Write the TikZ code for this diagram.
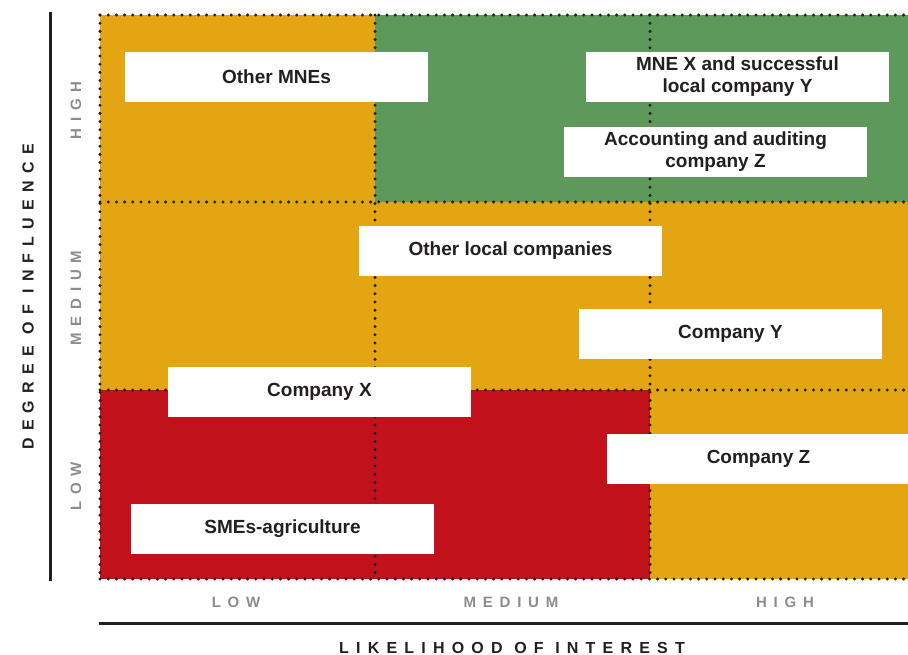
\documentclass[tikz,border=0pt]{standalone}
\usepackage{fontspec}
\setmainfont{Liberation Sans}
\newfontfamily\spacedfont[LetterSpace=45]{Liberation Sans}
\definecolor{cOrange}{HTML}{E3A612}
\definecolor{cGreen}{HTML}{5E995C}
\definecolor{cRed}{HTML}{C1121C}
\definecolor{cDark}{HTML}{231F20}
\definecolor{cGrey}{HTML}{8C8C8E}
\tikzset{
  dotline/.style={draw=cDark, line width=3.3pt, line cap=round, dash pattern=on 0pt off 8.2pt},
  itembox/.style={fill=white, minimum width=303pt, minimum height=50pt, inner sep=0pt,
    align=center, text=cDark, font=\fontsize{19}{22}\selectfont\bfseries},
  levellabel/.style={text=cGrey, inner sep=0pt, font=\fontsize{15}{15}\selectfont\spacedfont\bfseries},
  axistitle/.style={text=cDark, inner sep=0pt, font=\fontsize{16}{16}\selectfont\spacedfont\bfseries},
  axisline/.style={draw=cDark, line width=3pt}
}
\begin{document}
\begin{tikzpicture}[x=1pt,y=-1pt]
\useasboundingbox (0,0) rectangle (908,655);
\clip (0,0) rectangle (908,655);
% cells
\fill[cOrange] (100,15) rectangle (375,202);
\fill[cGreen] (375,15) rectangle (925,202);
\fill[cOrange] (100,202) rectangle (925,390);
\fill[cRed] (100,390) rectangle (650,579);
\fill[cOrange] (650,390) rectangle (925,579);
% dotted grid
\foreach \yy in {15,202,390,579} { \draw[dotline] (100,\yy) -- (925,\yy); }
\foreach \xx in {100,375,650} { \draw[dotline] (\xx,15) -- (\xx,579); }
% axis lines
\coordinate (ya) at (50,12);
\coordinate (yb) at (50,581);
\coordinate (xa) at (99,623.5);
\coordinate (xb) at (908,623.5);
\draw[axisline] (ya) -- (yb);
\draw[axisline] (xa) -- (xb);
% boxes
\node[itembox] (mnes) at (276.5,77) {Other MNEs};
\node[itembox] (mnex) at (737.5,77) {MNE X and successful\\local company Y};
\node[itembox] (acc) at (715.5,152) {Accounting and auditing\\company Z};
\node[itembox] (olc) at (510.5,251) {Other local companies};
\node[itembox] (cy) at (730.5,334) {Company Y};
\node[itembox] (cx) at (319.5,392) {Company X};
\node[itembox] (cz) at (758.5,459) {Company Z};
\node[itembox] (sme) at (282.5,529) {SMEs-agriculture};
% level labels
\node[levellabel, rotate=90] (yh) at (76,110.5) {HIGH};
\node[levellabel, rotate=90] (ym) at (76,298) {MEDIUM};
\node[levellabel, rotate=90] (yl) at (76,486.5) {LOW};
\node[levellabel] (xl) at (236,602) {LOW};
\node[levellabel] (xm) at (511,602) {MEDIUM};
\node[levellabel] (xh) at (785,602) {HIGH};
% axis titles
\node[axistitle, rotate=90] (yt) at (28,297) {DEGREE OF INFLUENCE};
\node[axistitle] (xt) at (512,647.5) {LIKELIHOOD OF INTEREST};
\end{tikzpicture}
\end{document}
